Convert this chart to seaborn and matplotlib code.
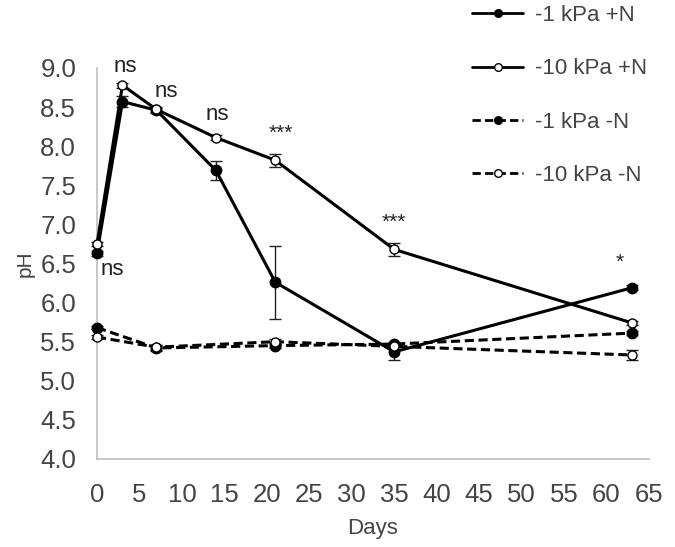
import matplotlib
matplotlib.use("Agg")
import matplotlib.pyplot as plt
import seaborn as sns
import pandas as pd
from matplotlib.lines import Line2D

sns.set_style("white")
plt.rcParams['font.family'] = ['Liberation Sans', 'DejaVu Sans']

days_a = [0, 3, 7, 14, 21, 35, 63]
days_b = [0, 7, 21, 35, 63]

ph_1kpa_pN = [6.63, 8.57, 8.46, 7.69, 6.26, 5.37, 6.19]
err_1kpa_pN = [0.03, 0.07, 0.03, 0.12, 0.47, 0.10, 0.03]
ph_10kpa_pN = [6.75, 8.78, 8.47, 8.11, 7.82, 6.68, 5.74]
err_10kpa_pN = [0.03, 0.03, 0.03, 0.03, 0.08, 0.08, 0.03]
ph_1kpa_mN = [5.68, 5.42, 5.45, 5.47, 5.61]
err_1kpa_mN = [0.02, 0.04, 0.03, 0.03, 0.03]
ph_10kpa_mN = [5.56, 5.43, 5.50, 5.44, 5.33]
err_10kpa_mN = [0.02, 0.03, 0.03, 0.03, 0.06]

labels = ["-1 kPa +N", "-10 kPa +N", "-1 kPa -N", "-10 kPa -N"]

sig_days = [0, 3, 7, 14, 21, 35, 63]
sig_text = ["ns", "ns", "ns", "ns", "***", "***", "*"]
sig_y = [6.42, 9.02, 8.70, 8.41, 8.17, 7.03, 6.52]

xticks = list(range(0, 70, 5))
yticks = [4.0, 4.5, 5.0, 5.5, 6.0, 6.5, 7.0, 7.5, 8.0, 8.5, 9.0]

fig = plt.figure(figsize=(6.75, 5.47), dpi=100)
ax = fig.add_axes([97/675, 1-459/547, (649-97)/675, (459-68)/547])

series = [
    (days_a, ph_1kpa_pN, err_1kpa_pN, "-", "black", 7.5),
    (days_a, ph_10kpa_pN, err_10kpa_pN, "-", "white", 6.5),
    (days_b, ph_1kpa_mN, err_1kpa_mN, (0, (3, 1.5)), "black", 7.5),
    (days_b, ph_10kpa_mN, err_10kpa_mN, (0, (3, 1.5)), "white", 6.5),
]

for (x, y, e, ls, mfc, ms), lab in zip(series, labels):
    df = pd.DataFrame({"Days": x, "pH": y})
    ax.errorbar(x, y, yerr=e, fmt="none", ecolor="#222222", elinewidth=1.0,
                capsize=4, capthick=1.0, zorder=2, clip_on=False)
    sns.lineplot(data=df, x="Days", y="pH", ax=ax, color="black",
                 linestyle=ls, linewidth=2.2, marker="o", markersize=ms,
                 markerfacecolor=mfc, markeredgecolor="black",
                 markeredgewidth=1.0, zorder=3, legend=False, clip_on=False)

offsets = {0: 1.8, 3: 0.3, 7: 1.2, 14: 0.2, 21: 0.6, 35: 0.0, 63: -1.5}
for d, t, yy in zip(sig_days, sig_text, sig_y):
    fs = 16 if t == "ns" else 15
    ax.text(d + offsets[d], yy, t, ha="center", va="center", fontsize=fs,
            color="#222222")

ax.set_xlim(0, 65)
ax.set_ylim(4.0, 9.0)
ax.set_xticks(xticks)
ax.set_yticks(yticks)
ax.set_yticklabels([f"{v:.1f}" for v in yticks])
ax.tick_params(axis="both", direction="in", length=5, color="#bfbfbf",
               labelsize=18.5, labelcolor="#444444")
ax.tick_params(axis="y", pad=15)
ax.tick_params(axis="x", pad=17)
ax.set_xlabel("Days", fontsize=16, color="#444444", labelpad=8)
ax.set_ylabel("pH", fontsize=15, color="#444444", labelpad=4)
for s in ["top", "right"]:
    ax.spines[s].set_visible(False)
for s in ["left", "bottom"]:
    ax.spines[s].set_color("#bfbfbf")
    ax.spines[s].set_linewidth(1.2)
ax.set_facecolor("none")

handles = []
for (x, y, e, ls, mfc, ms), lab in zip(series, labels):
    handles.append(Line2D([0], [0], color="black", linestyle=ls, linewidth=2.0,
                          marker="o", markersize=5.5, markerfacecolor=mfc,
                          markeredgecolor="black", markeredgewidth=1.0))
fig.legend(handles, labels, loc="upper left", bbox_to_anchor=(452/675, 1.027),
           frameon=False, fontsize=16, labelspacing=1.45, handlelength=2.3,
           handletextpad=0.55, labelcolor="#444444")

fig.savefig("out.png", dpi=100)
